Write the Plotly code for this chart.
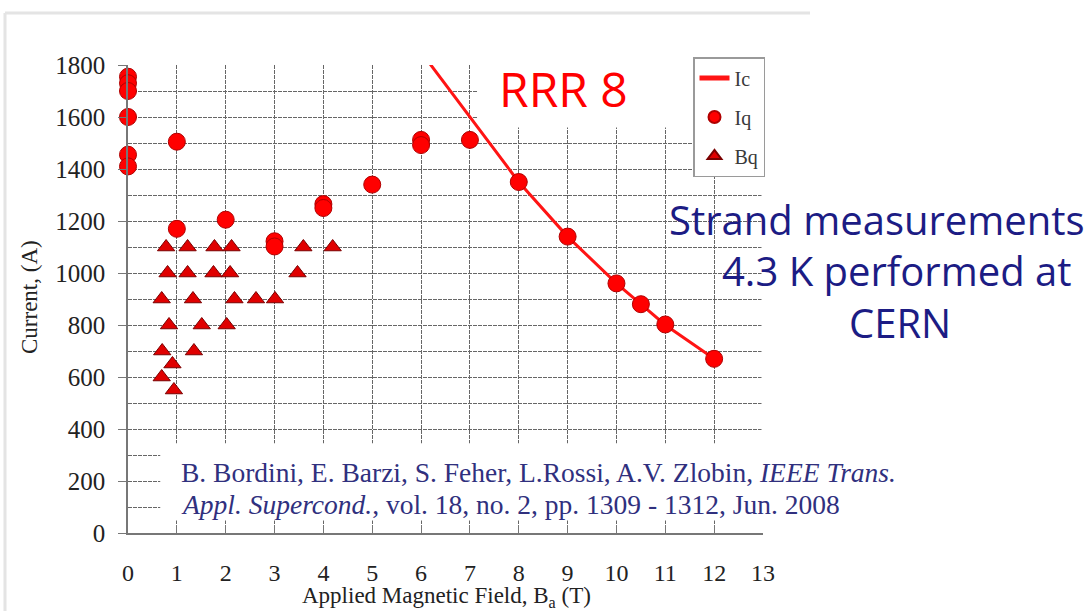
import plotly.graph_objects as go

# --- data -------------------------------------------------------------
# Critical current Ic (line), quench current Iq (circles), quench field Bq (triangles)
ic_field = [6, 7, 8, 9, 10, 10.5, 11, 12]
ic_current = [1850, 1600, 1350, 1140, 960, 880, 800, 670]

iq_field = [0, 0, 0, 0, 0, 0, 1, 1, 2, 3, 3, 4, 4, 5, 6, 6, 7, 8, 9, 10, 10.5, 11, 12]
iq_current = [1755, 1730, 1700, 1600, 1455, 1410, 1505, 1170, 1205, 1122, 1102,
              1265, 1250, 1340, 1512, 1492, 1512, 1350, 1140, 960, 880, 802, 670]

bq_field = [0.78, 1.22, 1.77, 2.12, 3.59, 4.19,
            0.81, 1.22, 1.75, 2.09, 3.47,
            0.69, 1.33, 2.18, 2.62, 3.01,
            0.84, 1.51, 2.02,
            0.70, 1.35,
            0.91, 0.69, 0.94]
bq_current = [1100, 1100, 1100, 1100, 1100, 1100,
              1000, 1000, 1000, 1000, 1000,
              900, 900, 900, 900, 900,
              800, 800, 800,
              700, 700,
              650, 600, 550]

x_ticks = list(range(0, 14))
y_ticks = list(range(0, 1801, 200))

# --- layout geometry (pixels) ------------------------------------------
W, H = 1091, 611
ML, MR, MT, MB = 128, 328, 65, 78
PW, PH = W - ML - MR, H - MT - MB


def px(x):
    return (x - ML) / PW


def py(y):
    return (H - MB - y) / PH


SERIF = "Liberation Serif, Times New Roman, serif"
GRID = "#666666"

fig = go.Figure()

fig.add_trace(go.Scatter(
    x=ic_field, y=ic_current, mode="lines", name="Ic",
    line=dict(color="#ff1414", width=3), legendgroup="ic",
))
fig.add_trace(go.Scatter(
    x=iq_field, y=iq_current, mode="markers", name="Iq", cliponaxis=False,
    marker=dict(symbol="circle", size=17, color="#ff0000",
                line=dict(color="#b00000", width=1)),
    legendgroup="iq",
))
fig.add_trace(go.Scatter(
    x=bq_field, y=bq_current, mode="markers", name="Bq", cliponaxis=False,
    marker=dict(symbol="triangle-up", size=15, color="#e00000",
                line=dict(color="#7a0000", width=1)),
    legendgroup="bq",
))

annotations = [
    dict(text="RRR 8", x=px(497), y=py(88), xanchor="left", yanchor="middle",
         font=dict(family="Open Sans", size=48, color="#ff0000")),
    dict(text="Strand measurements", x=px(667), y=py(219), xanchor="left", yanchor="middle",
         font=dict(family="Open Sans", size=40, color="#1c1c84")),
    dict(text="4.3 K performed at", x=px(720), y=py(270), xanchor="left", yanchor="middle",
         font=dict(family="Open Sans", size=40, color="#1c1c84")),
    dict(text="CERN", x=px(847), y=py(322), xanchor="left", yanchor="middle",
         font=dict(family="Open Sans", size=40, color="#1c1c84")),
    dict(text="B. Bordini, E. Barzi, S. Feher, L.Rossi, A.V. Zlobin, <i>IEEE Trans.</i>",
         x=px(179), y=py(472), xanchor="left", yanchor="middle",
         font=dict(family=SERIF, size=27.5, color="#30307e")),
    dict(text="<i>Appl. Supercond.</i>, vol. 18, no. 2, pp. 1309 - 1312, Jun. 2008",
         x=px(179), y=py(504), xanchor="left", yanchor="middle",
         font=dict(family=SERIF, size=27.5, color="#30307e")),
    dict(text="Current, (A)", x=px(29), y=py(297), textangle=-90,
         xanchor="center", yanchor="middle",
         font=dict(family=SERIF, size=23, color="#222222")),
    dict(text="Applied Magnetic Field, B<sub>a</sub> (T)", x=px(447), y=py(597),
         xanchor="center", yanchor="middle",
         font=dict(family=SERIF, size=23, color="#222222")),
]
for a in annotations:
    a.update(xref="paper", yref="paper", showarrow=False)

shapes = [
    # white text boxes hiding the grid behind the labels
    dict(type="rect", xref="x", yref="y", x0=7.15, x1=13, y0=1560, y1=1800,
         fillcolor="white", line=dict(width=0), layer="between"),
    dict(type="rect", xref="x", yref="y", x0=0.66, x1=13, y0=48, y1=345,
         fillcolor="white", line=dict(width=0), layer="between"),
    # no vertical grid line along the right edge
    dict(type="line", xref="x", yref="y", x0=13, x1=13, y0=345, y1=1800,
         line=dict(color="white", width=3), layer="between"),
    # slide frame
    dict(type="line", xref="paper", yref="paper", x0=px(5), x1=px(810), y0=py(13), y1=py(13),
         line=dict(color="#e4e4e4", width=3), layer="below"),
    dict(type="line", xref="paper", yref="paper", x0=px(5), x1=px(5), y0=py(13), y1=py(611),
         line=dict(color="#e4e4e4", width=3), layer="below"),
]

fig.update_layout(
    width=W, height=H,
    margin=dict(l=ML, r=MR, t=MT, b=MB, pad=0),
    paper_bgcolor="white", plot_bgcolor="white",
    font=dict(family=SERIF, color="#222222"),
    showlegend=True,
    legend=dict(
        x=px(693), y=py(57), xanchor="left", yanchor="top",
        bgcolor="white", bordercolor="#9a9a9a", borderwidth=1.5,
        font=dict(family=SERIF, size=20, color="#3a3a3a"),
        tracegroupgap=10, itemsizing="constant", itemwidth=30,
    ),
    annotations=annotations,
    shapes=shapes,
    xaxis=dict(
        range=[0, 13], tickvals=x_ticks, ticktext=[str(v) for v in x_ticks],
        showgrid=True, gridcolor=GRID, gridwidth=1, griddash="4px,1px",
        ticks="inside", ticklen=8, tickcolor="#777777",
        showline=True, linecolor="#777777", linewidth=1.5,
        zeroline=False, ticklabelstandoff=17,
        tickfont=dict(family=SERIF, size=24, color="#222222"),
    ),
    yaxis=dict(
        range=[0, 1800], tickvals=y_ticks, ticktext=[str(v) for v in y_ticks],
        showgrid=True, gridcolor=GRID, gridwidth=1, griddash="4px,1px",
        ticks="outside", ticklen=8, tickcolor="#777777",
        showline=True, linecolor="#777777", linewidth=1.5,
        zeroline=False, ticklabelstandoff=8,
        tickfont=dict(family=SERIF, size=25, color="#222222"),
        minor=dict(dtick=100, tick0=0, showgrid=True, gridcolor=GRID,
                   gridwidth=1, griddash="4px,1px", ticks=""),
    ),
)

fig.write_html("out.html")
